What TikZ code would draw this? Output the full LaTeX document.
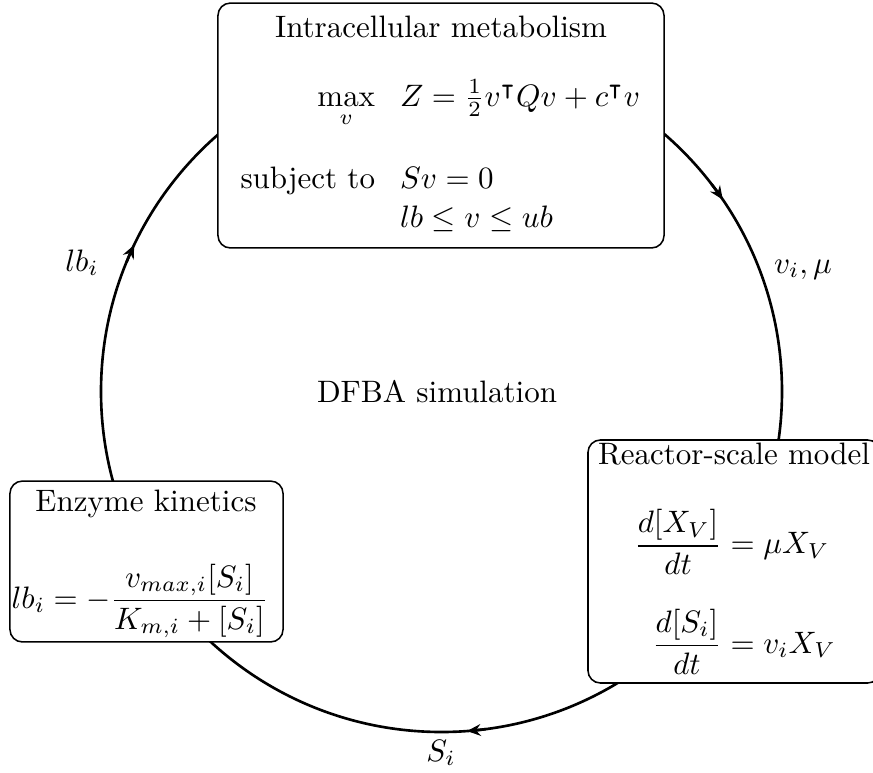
\documentclass[tikz,border=0pt]{standalone}
\usepackage{amsmath,amssymb}
\usetikzlibrary{arrows.meta}
\begin{document}
\begin{tikzpicture}[x=0.3226pt,y=-0.3226pt,
  box/.style={draw, line width=0.5pt, rounded corners=4pt, fill=white, inner sep=0pt},
  txt/.style={inner sep=0pt, outer sep=0pt},
  circ/.style={line width=0.85pt},
  tip/.style={circ, -{Stealth[length=4.4pt,width=3.8pt,inset=1.5pt]}}]
\useasboundingbox (0,0) rectangle (873,772);
\coordinate (c) at (441.5,391.5);
% cycle
\draw[circ] (c) circle[radius=340.5];
\draw[tip] ([shift={(-37.5:340.5)}]c) arc[start angle=-37.5, end angle=-34.3, radius=340.5];
\draw[tip] ([shift={(202.3:340.5)}]c) arc[start angle=202.3, end angle=205.5, radius=340.5];
\draw[tip] ([shift={(82.5:340.5)}]c) arc[start angle=82.5, end angle=85.7, radius=340.5];
% boxes
\node[box, minimum width=143.9pt, minimum height=79.0pt] (top) at (441,125.5) {};
\node[box, minimum width=94.2pt, minimum height=78.4pt] (reac) at (734,561.5) {};
\node[box, minimum width=88.1pt, minimum height=51.9pt] (enz) at (146.5,561.5) {};
% top box text
\node[txt, anchor=base] (ttl) at (441,37) {Intracellular metabolism};
\node[txt, anchor=base east] (mx) at (375,106) {$\displaystyle\max_v$};
\node[txt, anchor=base west] (obj) at (400,106) {$Z = \frac{1}{2}v^{\intercal}Qv + c^{\intercal}v$};
\node[txt, anchor=base east] (st) at (375,188) {subject to};
\node[txt, anchor=base west] (c1) at (400,188) {$Sv = 0$};
\node[txt, anchor=base west] (c2) at (400,227) {$lb \le v \le ub$};
% reactor box text
\node[txt, anchor=base] (rttl) at (734,464) {Reactor-scale model};
\node[txt] (req) at (735,592) {$\begin{aligned}\frac{d[X_V]}{dt} &= \mu X_V\\[7pt] \frac{d[S_i]}{dt} &= v_iX_V\end{aligned}$};
% enzyme box text
\node[txt, anchor=base] (ettl) at (146,511) {Enzyme kinetics};
\node[txt, anchor=base] (eeq) at (140,608) {$lb_i = -\dfrac{v_{max,i}[S_i]}{K_{m,i}+[S_i]}$};
% labels
\node[txt, anchor=base] (dfba) at (437,402) {DFBA simulation};
\node[txt, anchor=base] (lv) at (803,273) {$v_i, \mu$};
\node[txt, anchor=base] (llb) at (82,271) {$lb_i$};
\node[txt, anchor=base] (ls) at (441,761) {$S_i$};
\end{tikzpicture}
\end{document}
